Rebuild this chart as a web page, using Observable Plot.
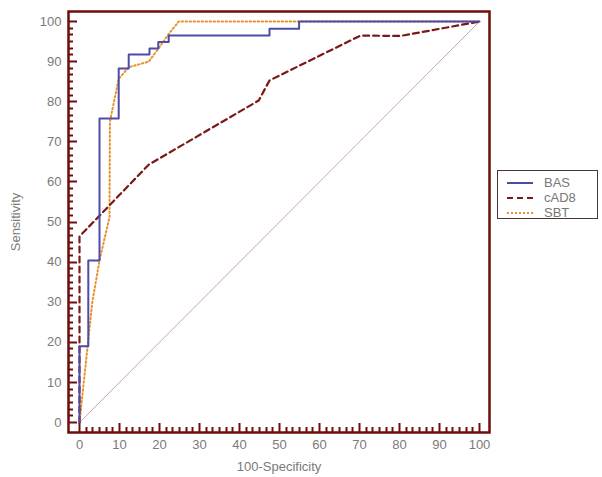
<!DOCTYPE html>
<html>
<head>
<meta charset="utf-8">
<script src="https://cdn.jsdelivr.net/npm/d3@7"></script>
<script src="https://cdn.jsdelivr.net/npm/@observablehq/plot@0.6"></script>
<style>
  body { margin: 0; background: #fff; }
  #wrap { position: relative; width: 602px; height: 477px; font-family: "Liberation Sans", Arial, sans-serif; }
  #wrap > svg { font-family: "Liberation Sans", Arial, sans-serif; font-size: 13px; color: #7a7a7a; }
  #ticks { position: absolute; left: 0; top: 0; pointer-events: none; }
  #legend { position: absolute; left: 497px; top: 170px; width: 99px; height: 47px; border: 1px solid #4a3535; background: #fff; font-size: 13px; color: #777; }
  #legend .row { display: flex; align-items: center; height: 13px; margin-top: 2px; }
  #legend .row:first-child { margin-top: 5px; }
  #legend .sample { margin-left: 9px; margin-right: 11px; }
</style>
</head>
<body>
<div id="wrap"></div>
<script>
// ROC data (100-Specificity, Sensitivity)
const basX = [0, 0, 2.2, 5, 9.8, 12.3, 17.5, 19.7, 22.3, 47.5, 54.9, 100];
const basY = [0, 19, 40.4, 75.8, 88.3, 91.8, 93.3, 94.9, 96.5, 98.2, 100, 100];

const cadX = [0, 0, 17.3, 44.8, 47.5, 70.25, 80.25, 100];
const cadY = [0, 46.4, 64.3, 80.3, 85.3, 96.5, 96.4, 100];

const sbtX = [0, 3.2, 5, 7.5, 7.6, 9.8, 12.3, 17.3, 19.7, 22.3, 24.8, 100];
const sbtY = [0, 30, 40.4, 51.2, 75, 85.7, 88.6, 90, 93.2, 96.9, 100, 100];

const refX = [0, 100];
const refY = [0, 100];

const series = ["BAS", "cAD8", "SBT"];
const majorTicks = [0, 10, 20, 30, 40, 50, 60, 70, 80, 90, 100];
const minorPerMajor = 5;

const xLabel = "100-Specificity";
const yLabel = "Sensitivity";

const toRows = (xs, ys) => xs.map((x, i) => ({x, y: ys[i]}));
const minorTicks = [];
for (let i = 0; i < majorTicks.length - 1; i++) {
  const step = (majorTicks[i + 1] - majorTicks[i]) / (minorPerMajor + 1);
  for (let k = 1; k <= minorPerMajor; k++) minorTicks.push(majorTicks[i] + k * step);
}

const maroon = "#6e0c0c";
const xMin = -2.75, xMax = 102.5, yMin = -2.5, yMax = 102.5;

const chart = Plot.plot({
  width: 602,
  height: 477,
  marginLeft: 68,
  marginRight: 113,
  marginTop: 11,
  marginBottom: 45,
  x: { domain: [xMin, xMax], ticks: majorTicks, tickSize: 0, tickPadding: 7, label: xLabel, labelAnchor: "center", labelOffset: 38, labelArrow: false },
  y: { domain: [yMin, yMax], ticks: majorTicks, tickSize: 0, tickPadding: 7, label: yLabel, labelAnchor: "center", labelOffset: 58, labelArrow: false },
  marks: [
    Plot.line(toRows(refX, refY), { x: "x", y: "y", stroke: "#d0a6a6", strokeWidth: 1 }),
    Plot.line(toRows(sbtX, sbtY), { x: "x", y: "y", stroke: "#e8922e", strokeWidth: 2, strokeDasharray: "1.5,2.5" }),
    Plot.line(toRows(cadX, cadY), { x: "x", y: "y", stroke: "#7a1818", strokeWidth: 2.2, strokeDasharray: "6,4" }),
    Plot.line(toRows(basX, basY), { x: "x", y: "y", stroke: "#4c4ca8", strokeWidth: 2, curve: "step-after" }),
    Plot.frame({ stroke: maroon, strokeWidth: 2.5 })
  ]
});

const wrap = document.getElementById("wrap");
wrap.appendChild(chart);

// inward tick marks in an overlay, positioned through the chart's own scales
const sx = chart.scale("x"), sy = chart.scale("y");
const x0 = sx.apply(xMin), y0 = sy.apply(yMin);
const overlay = d3.create("svg")
  .attr("id", "ticks")
  .attr("width", 602)
  .attr("height", 477)
  .attr("xmlns", "http://www.w3.org/2000/svg");
const tg = overlay.append("g").attr("stroke", maroon).attr("stroke-width", 2).attr("fill", "none");
const addTicks = (vals, len) => {
  vals.forEach(v => {
    const px = Math.round(sx.apply(v)) + 0.5, py = Math.round(sy.apply(v)) + 0.5;
    tg.append("path").attr("d", `M${px},${y0}V${y0 - len}`);
    tg.append("path").attr("d", `M${x0},${py}H${x0 + len}`);
  });
};
addTicks(majorTicks, 9);
addTicks(minorTicks, 5);
wrap.appendChild(overlay.node());

const legend = document.createElement("div");
legend.id = "legend";
const styles = {
  BAS: { stroke: "#4c4ca8", kind: "solid", w: 2 },
  cAD8: { stroke: "#7a1818", kind: "dashed", w: 2 },
  SBT: { stroke: "#e8922e", kind: "dotted", w: 2 }
};
series.forEach(s => {
  const row = document.createElement("div");
  row.className = "row";
  const st = styles[s];
  const sample = document.createElement("span");
  sample.className = "sample";
  sample.style.display = "inline-block";
  sample.style.width = "26px";
  sample.style.height = "0";
  sample.style.borderTop = `${st.w}px ${st.kind} ${st.stroke}`;
  const label = document.createElement("span");
  label.textContent = s;
  row.appendChild(sample);
  row.appendChild(label);
  legend.appendChild(row);
});
wrap.appendChild(legend);
</script>
</body>
</html>
